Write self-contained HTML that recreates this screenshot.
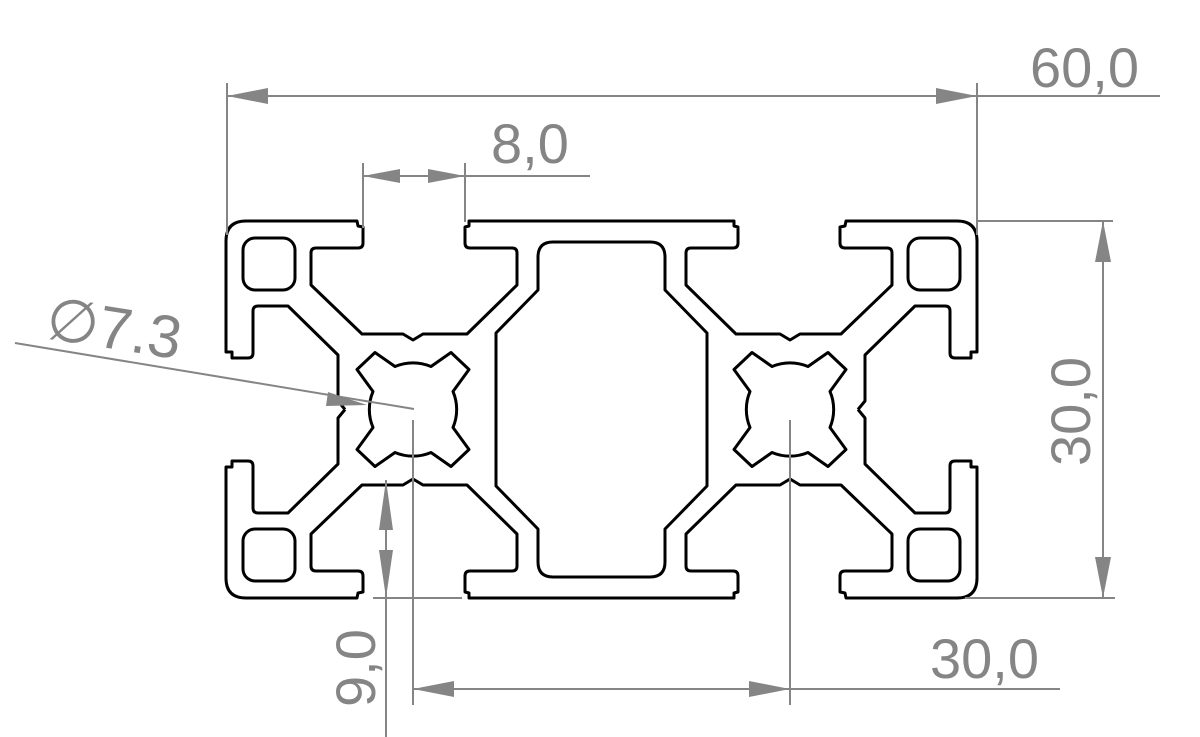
<!DOCTYPE html>
<html><head><meta charset="utf-8"><style>
html,body{margin:0;padding:0;background:#fff;}
svg{display:block;}
text{font-family:"Liberation Sans","DejaVu Sans",sans-serif;fill:#858585;}
</style></head><body>
<svg width="1200" height="737" viewBox="0 0 1200 737" xmlns="http://www.w3.org/2000/svg">
<defs>
<g id="q" fill="none" stroke="#000" stroke-width="3" stroke-linejoin="round">
<path d="M601.5,221 L469,221 L469,226 L465,227 L465,243 Q465,248 470,248 L512,248 Q517,248 517,253 L517,285 L467,334 L423,334 L413,340 L403,334 L362,334 L311,285 L311,253 Q311,248 316,248 L358,248 Q363,248 363,243 L363,227 L358,226 L357,221 L246,221 Q226,221 226,241 L226,352 L232,352 L232,358 L248,358 Q253,358 253,353 L253,311 Q253,306 258,306 L288,306 L338,355 L338,401 L345,409.5"/>
<path d="M601.5,242 L553,242 Q538,242 538,257 L538,290 L496,333 L496,409.5"/>
<rect x="243" y="238" width="52" height="52" rx="12"/>
</g>
<path id="star" fill="none" stroke="#000" stroke-width="3" stroke-linejoin="round" d="M-40,-18 L-56,-40 L-38,-57 L-18,-43 A46 46 0 0 1 18,-43 L38,-57 L56,-40 L40,-18 A46 46 0 0 1 40,18 L56,40 L38,57 L18,43 A46 46 0 0 1 -18,43 L-38,57 L-56,40 L-40,18 A46 46 0 0 1 -40,-18 Z"/>
</defs>
<use href="#q"/>
<use href="#q" transform="translate(1203,0) scale(-1,1)"/>
<use href="#q" transform="translate(0,819) scale(1,-1)"/>
<use href="#q" transform="translate(1203,819) scale(-1,-1)"/>
<use href="#star" transform="translate(413,409.5)"/>
<use href="#star" transform="translate(790,409.5)"/>

<g stroke="#858585" stroke-width="2" fill="none">
<line x1="227" y1="83" x2="227" y2="235"/>
<line x1="977" y1="83" x2="977" y2="235"/>
<line x1="227" y1="96" x2="1160" y2="96"/>
<line x1="363" y1="163" x2="363" y2="228"/>
<line x1="465" y1="163" x2="465" y2="222"/>
<line x1="363" y1="176" x2="590" y2="176"/>
<line x1="977" y1="221" x2="1113" y2="221"/>
<line x1="965" y1="598" x2="1115" y2="598"/>
<line x1="1103" y1="221" x2="1103" y2="598"/>
<line x1="15" y1="343" x2="414" y2="409"/>
<line x1="386" y1="480" x2="386" y2="737"/>
<line x1="373" y1="598" x2="462" y2="598"/>
<line x1="413" y1="420" x2="413" y2="705"/>
<line x1="790" y1="420" x2="790" y2="705"/>
<line x1="413" y1="689" x2="1060" y2="689"/>
</g>
<g fill="#858585">
<polygon points="227,96 268,88 268,104"/>
<polygon points="977,96 936,88 936,104"/>
<polygon points="363,176 400,169 400,183"/>
<polygon points="465,176 428,169 428,183"/>
<polygon points="1103,221 1095,262 1111,262"/>
<polygon points="1103,598 1095,557 1111,557"/>
<polygon points="367,405 328,392 326,406"/>
<polygon points="386,480 379,530 393,530"/>
<polygon points="386,598 379,550 393,550"/>
<polygon points="413,689 454,681 454,697"/>
<polygon points="790,689 749,681 749,697"/>
</g>
<g font-size="56">
<text x="1030" y="87">60,0</text>
<text x="491" y="163">8,0</text>
<text x="930" y="678">30,0</text>
<text transform="translate(1090,466) rotate(-90)">30,0</text>
<text transform="translate(375,707) rotate(-90)">9,0</text>
<text font-size="60" transform="translate(44,338) rotate(9)">∅7.3</text>
</g>
</svg>
</body></html>
